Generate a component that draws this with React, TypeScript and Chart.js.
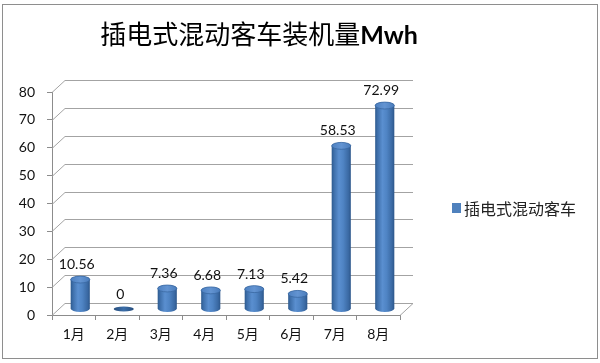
import React, { useEffect, useRef } from "react";
import { Chart, registerables } from "chart.js";

Chart.register(...registerables);

const categories = ["1月", "2月", "3月", "4月", "5月", "6月", "7月", "8月"];
const values = [10.56, 0, 7.36, 6.68, 7.13, 5.42, 58.53, 72.99];
const valueLabels = ["10.56", "0", "7.36", "6.68", "7.13", "5.42", "58.53", "72.99"];
const seriesName = "插电式混动客车";
const titleText = "插电式混动客车装机量";
const titleUnit = "Mwh";
const yMin = 0;
const yMax = 80;
const yStep = 10;

const DX = 13;
const DY = -12;
const LATIN = "Lato, 'Noto Sans CJK SC', sans-serif";
const CJK = "'Noto Sans CJK SC', sans-serif";

function drawCylinder(ctx: CanvasRenderingContext2D, cx: number, top: number, bottom: number, w: number) {
  const rx = w / 2;
  const ry = Math.max(2, w * 0.18);
  const h = bottom - top;
  if (h < 1) {
    ctx.beginPath();
    ctx.ellipse(cx, bottom, rx + 0.5, ry * 0.75, 0, 0, Math.PI * 2);
    const g0 = ctx.createLinearGradient(cx - rx, 0, cx + rx, 0);
    g0.addColorStop(0, "#284F7E");
    g0.addColorStop(0.5, "#3C6EA9");
    g0.addColorStop(1, "#284F7E");
    ctx.fillStyle = g0;
    ctx.fill();
    return;
  }
  const g = ctx.createLinearGradient(cx - rx, 0, cx + rx, 0);
  g.addColorStop(0, "#2D5A8E");
  g.addColorStop(0.12, "#3E6FAA");
  g.addColorStop(0.38, "#5A8FD0");
  g.addColorStop(0.6, "#4F84C4");
  g.addColorStop(0.88, "#3A69A3");
  g.addColorStop(1, "#2C568A");
  ctx.beginPath();
  ctx.moveTo(cx - rx, top);
  ctx.lineTo(cx - rx, bottom);
  ctx.ellipse(cx, bottom, rx, ry, 0, Math.PI, 0, true);
  ctx.lineTo(cx + rx, top);
  ctx.ellipse(cx, top, rx, ry, 0, 0, Math.PI, true);
  ctx.closePath();
  ctx.fillStyle = g;
  ctx.fill();
  ctx.beginPath();
  ctx.ellipse(cx, top, rx, ry, 0, 0, Math.PI * 2);
  const gt = ctx.createLinearGradient(cx - rx, 0, cx + rx, 0);
  gt.addColorStop(0, "#4D80C0");
  gt.addColorStop(0.5, "#6394D2");
  gt.addColorStop(1, "#4A7CBB");
  ctx.fillStyle = gt;
  ctx.fill();
  ctx.strokeStyle = "#3A68A2";
  ctx.lineWidth = 0.8;
  ctx.stroke();
}

const threeD = {
  id: "threeD",
  beforeDatasetsDraw(chart: any) {
    const { ctx, chartArea, scales } = chart;
    const ys = scales.y;
    const left = chartArea.left;
    const right = chartArea.right;
    const bottom = Math.round(chartArea.bottom) + 0.5;
    ctx.save();
    ctx.strokeStyle = "#A3A3A3";
    ctx.lineWidth = 1;
    ctx.beginPath();
    for (const t of ys.ticks) {
      const py = Math.round(ys.getPixelForValue(t.value)) + 0.5;
      ctx.moveTo(left, py);
      ctx.lineTo(left + DX, py + DY);
      ctx.lineTo(right + DX, py + DY);
    }
    ctx.moveTo(right, bottom);
    ctx.lineTo(right + DX, bottom + DY);
    ctx.stroke();

    const meta = chart.getDatasetMeta(0);
    meta.data.forEach((el: any, i: number) => {
      const p = el.getProps(["x", "y", "base", "width"], true);
      const cx = p.x + DX / 2;
      const top = p.y + DY / 2;
      const base = p.base + DY / 2;
      drawCylinder(ctx, cx, top, base, p.width);
      ctx.fillStyle = "#111";
      ctx.font = "14px " + LATIN;
      ctx.textAlign = "center";
      ctx.textBaseline = "middle";
      ctx.fillText(valueLabels[i], cx - 3.5, top - 15);
    });
    ctx.restore();
    return false;
  },
};

export default function App() {
  const ref = useRef<HTMLCanvasElement | null>(null);
  useEffect(() => {
    if (!ref.current) return;
    const yTickValues: number[] = [];
    for (let v = yMin; v <= yMax; v += yStep) yTickValues.push(v);
    const chart = new Chart(ref.current, {
      type: "bar",
      data: {
        labels: categories,
        datasets: [
          {
            label: seriesName,
            data: values,
            backgroundColor: "#4F81BD",
            borderWidth: 0,
            barPercentage: 0.44,
            categoryPercentage: 1,
          },
        ],
      },
      options: {
        responsive: false,
        animation: false,
        events: [],
        layout: { padding: { left: 2, right: 200, top: 92, bottom: 20 } },
        plugins: {
          legend: { display: false },
          title: { display: false },
          tooltip: { enabled: false },
        },
        scales: {
          x: {
            grid: { display: true, drawOnChartArea: false, drawTicks: true, tickLength: 5, color: "#8C8C8C", offset: true },
            border: { display: true, color: "#8C8C8C" },
            ticks: { color: "#111", font: { family: LATIN, size: 14 }, padding: 6, maxRotation: 0 },
            afterFit: (s: any) => {
              s.height = 28;
            },
          },
          y: {
            min: yMin,
            max: yMax,
            afterBuildTicks: (s: any) => {
              s.ticks = yTickValues.map((v) => ({ value: v }));
            },
            grid: { display: true, drawOnChartArea: false, drawTicks: true, tickLength: 5, color: "#8C8C8C" },
            border: { display: true, color: "#8C8C8C" },
            ticks: { color: "#111", font: { family: LATIN, size: 14 }, padding: 12 },
            afterFit: (s: any) => {
              s.width = 50;
            },
          },
        },
      },
      plugins: [threeD],
    });
    return () => chart.destroy();
  }, []);

  return (
    <div style={{ position: "fixed", left: 0, top: 0, width: 600, height: 363, background: "#fff", overflow: "hidden" }}>
      <div
        style={{
          position: "absolute",
          left: 2,
          top: 4,
          width: 596,
          height: 355,
          boxSizing: "border-box",
          border: "1px solid #8E8E8E",
        }}
      />
      <canvas ref={ref} width={600} height={363} style={{ position: "absolute", left: 0, top: 0 }} />
      <div
        style={{
          position: "absolute",
          left: 0,
          top: 19,
          width: 518,
          textAlign: "center",
          lineHeight: "28px",
          whiteSpace: "nowrap",
          color: "#000",
        }}
      >
        <span style={{ fontFamily: CJK, fontSize: 26 }}>{titleText}</span>
        <span style={{ fontFamily: LATIN, fontSize: 25, fontWeight: 700 }}>{titleUnit}</span>
      </div>
      <div style={{ position: "absolute", left: 452, top: 198, height: 20, display: "flex", alignItems: "center" }}>
        <span style={{ display: "inline-block", width: 9, height: 10, background: "#4F81BD", marginRight: 3 }} />
        <span style={{ fontFamily: CJK, fontSize: 16, color: "#222", lineHeight: "20px", whiteSpace: "nowrap" }}>
          {seriesName}
        </span>
      </div>
    </div>
  );
}
